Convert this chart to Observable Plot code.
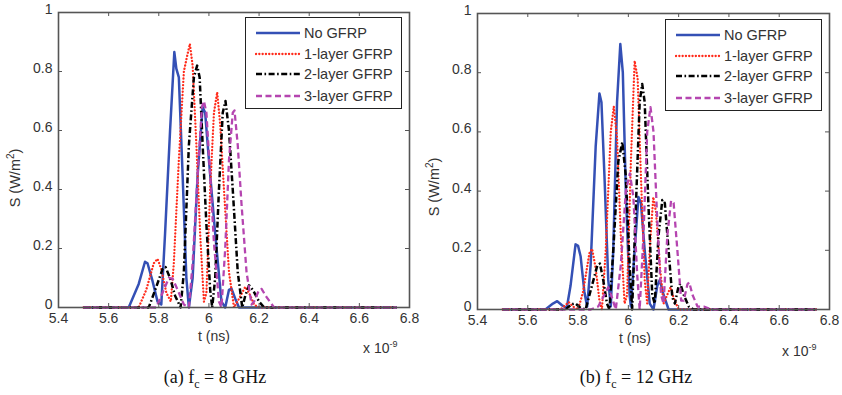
<!DOCTYPE html>
<html><head><meta charset="utf-8">
<script src="https://cdn.jsdelivr.net/npm/d3@7"></script>
<script src="https://cdn.jsdelivr.net/npm/@observablehq/plot@0.6"></script>
<style>
body{margin:0;background:#fff;width:842px;height:395px;position:relative;overflow:hidden;font-family:"Liberation Sans",Arial,sans-serif;color:#222}
.panel{position:absolute;top:0}
.lbl{position:absolute;font-size:14px;color:#333;white-space:nowrap}
.ylab{position:absolute;font-size:14.5px;color:#333;white-space:nowrap;transform:translate(-50%,-50%) rotate(-90deg)}
.cap{position:absolute;font-family:"Liberation Serif","Times New Roman",serif;font-size:18px;color:#111;white-space:nowrap;transform:translateX(-50%)}
.legend{position:absolute;border:1px solid #222;background:#fff}
.legend .row{position:absolute;left:9px;height:20px;display:flex;align-items:center;font-size:14.5px;color:#333}
.legend svg{margin-right:3px}
</style></head><body>
<script>
// ---------- data ----------
const seriesNames = ["No GFRP", "1-layer GFRP", "2-layer GFRP", "3-layer GFRP"];
const xTicks = [5.4, 5.6, 5.8, 6.0, 6.2, 6.4, 6.6, 6.8];
const yTicks = [0, 0.2, 0.4, 0.6, 0.8, 1];
const captions = ["(a) f", "(b) f"];
const captionRest = [" = 8 GHz", " = 12 GHz"];

// (a) fc = 8 GHz  — [t (ns), S (W/m²)]
const noGFRP_8 = [[5.50,0],[5.68,0],[5.72,0.08],[5.745,0.155],[5.755,0.15],[5.775,0.09],[5.795,0.02],[5.81,0.01],[5.825,0.25],[5.845,0.6],[5.862,0.866],[5.87,0.81],[5.88,0.78],[5.895,0.45],[5.91,0.1],[5.92,0],[5.935,0.1],[5.955,0.45],[5.975,0.68],[5.985,0.66],[6.0,0.5],[6.025,0.25],[6.05,0.02],[6.065,0],[6.08,0.06],[6.09,0.064],[6.105,0.03],[6.12,0],[6.75,0]];
const layer1_8 = [[5.50,0],[5.72,0],[5.75,0.06],[5.78,0.15],[5.795,0.165],[5.81,0.13],[5.83,0.05],[5.848,0.02],[5.86,0.15],[5.88,0.5],[5.9,0.8],[5.915,0.86],[5.924,0.894],[5.935,0.82],[5.95,0.55],[5.965,0.25],[5.98,0.02],[5.99,0.05],[6.005,0.4],[6.02,0.66],[6.033,0.73],[6.045,0.62],[6.06,0.4],[6.08,0.12],[6.1,0],[6.12,0.03],[6.145,0.07],[6.16,0.05],[6.18,0.01],[6.2,0],[6.75,0]];
const layer2_8 = [[5.50,0],[5.76,0],[5.79,0.07],[5.815,0.13],[5.827,0.137],[5.845,0.1],[5.865,0.04],[5.887,0],[5.9,0.12],[5.92,0.55],[5.94,0.78],[5.953,0.82],[5.963,0.78],[5.975,0.55],[5.99,0.28],[6.005,0.06],[6.013,0],[6.025,0.1],[6.04,0.4],[6.055,0.66],[6.066,0.7],[6.08,0.6],[6.095,0.4],[6.115,0.12],[6.133,0],[6.145,0.04],[6.16,0.075],[6.175,0.06],[6.2,0.02],[6.22,0],[6.75,0]];
const layer3_8 = [[5.50,0],[5.79,0],[5.82,0.06],[5.84,0.1],[5.855,0.098],[5.875,0.06],[5.9,0.01],[5.92,0],[5.935,0.15],[5.955,0.45],[5.972,0.68],[5.98,0.7],[5.99,0.66],[6.005,0.45],[6.02,0.22],[6.04,0.02],[6.05,0],[6.065,0.2],[6.08,0.5],[6.095,0.66],[6.102,0.668],[6.115,0.55],[6.13,0.35],[6.15,0.12],[6.17,0.01],[6.18,0.02],[6.2,0.06],[6.21,0.063],[6.23,0.035],[6.26,0],[6.75,0]];

// (b) fc = 12 GHz
const noGFRP_12 = [[5.50,0],[5.67,0],[5.70,0.02],[5.717,0.028],[5.735,0.015],[5.755,0.005],[5.77,0.08],[5.79,0.22],[5.80,0.215],[5.81,0.18],[5.825,0.06],[5.836,0.01],[5.85,0.15],[5.87,0.55],[5.885,0.73],[5.893,0.7],[5.905,0.45],[5.92,0.1],[5.93,0.01],[5.94,0.2],[5.955,0.7],[5.968,0.897],[5.978,0.8],[5.99,0.4],[6.005,0.05],[6.01,0.01],[6.025,0.2],[6.04,0.38],[6.05,0.36],[6.065,0.2],[6.085,0.02],[6.1,0],[6.115,0.08],[6.125,0.1],[6.14,0.05],[6.16,0],[6.75,0]];
const layer1_12 = [[5.50,0],[5.73,0],[5.75,0.015],[5.763,0.025],[5.78,0.01],[5.80,0],[5.82,0.06],[5.845,0.19],[5.856,0.205],[5.87,0.14],[5.885,0.03],[5.895,0],[5.91,0.2],[5.93,0.6],[5.942,0.686],[5.955,0.58],[5.97,0.25],[5.985,0.02],[5.995,0.05],[6.01,0.5],[6.025,0.84],[6.037,0.78],[6.05,0.45],[6.065,0.1],[6.075,0.02],[6.085,0.2],[6.099,0.38],[6.11,0.33],[6.125,0.15],[6.14,0.02],[6.155,0.05],[6.168,0.075],[6.18,0.04],[6.2,0],[6.75,0]];
const layer2_12 = [[5.50,0],[5.75,0],[5.775,0.018],[5.79,0.02],[5.81,0.005],[5.83,0],[5.855,0.08],[5.877,0.15],[5.887,0.155],[5.90,0.1],[5.915,0.02],[5.925,0],[5.94,0.2],[5.96,0.5],[5.976,0.565],[5.99,0.45],[6.005,0.15],[6.015,0],[6.03,0.35],[6.045,0.7],[6.055,0.762],[6.065,0.7],[6.08,0.35],[6.095,0.05],[6.105,0.02],[6.12,0.25],[6.135,0.37],[6.145,0.36],[6.16,0.2],[6.175,0.04],[6.185,0.02],[6.2,0.08],[6.207,0.087],[6.22,0.05],[6.24,0.01],[6.26,0],[6.75,0]];
const layer3_12 = [[5.50,0],[5.85,0],[5.88,0.01],[5.905,0.05],[5.92,0.075],[5.935,0.04],[5.95,0],[5.97,0.15],[5.99,0.4],[6.006,0.46],[6.02,0.38],[6.035,0.12],[6.045,0],[6.06,0.25],[6.075,0.6],[6.088,0.684],[6.1,0.6],[6.115,0.3],[6.13,0.05],[6.14,0.02],[6.155,0.25],[6.17,0.368],[6.18,0.36],[6.195,0.2],[6.21,0.03],[6.22,0.03],[6.235,0.085],[6.242,0.092],[6.255,0.05],[6.275,0.01],[6.3,0.01],[6.33,0],[6.75,0]];

// ---------- styles ----------
const styles = [
  {stroke: "#3450b5", strokeWidth: 2.5, strokeDasharray: null, strokeLinecap: "butt"},
  {stroke: "#ff2a1a", strokeWidth: 2.3, strokeDasharray: "0.1,3.2", strokeLinecap: "round"},
  {stroke: "#000000", strokeWidth: 2.5, strokeDasharray: "6,2.5,1.6,2.5", strokeLinecap: "butt"},
  {stroke: "#b545b0", strokeWidth: 2.3, strokeDasharray: "6,3.5", strokeLinecap: "butt"}
];

function panel(seriesData, opts) {
  const innerW = opts.width - opts.ml - opts.mr;
  const innerH = opts.height - opts.mt - opts.mb;
  const marks = [];
  seriesData.forEach((arr, i) => {
    const s = styles[i];
    const o = {x: d => d[0], y: d => d[1], stroke: s.stroke, strokeWidth: s.strokeWidth, strokeLinecap: s.strokeLinecap, strokeLinejoin: "round"};
    if (s.strokeDasharray) o.strokeDasharray = s.strokeDasharray;
    marks.push(Plot.line(arr, o));
  });
  // inward ticks on all four sides (MATLAB box style)
  marks.push(Plot.ruleX(xTicks, {x: d => d, insetTop: innerH - 4, stroke: "#555", strokeWidth: 1}));
  marks.push(Plot.ruleX(xTicks, {x: d => d, insetBottom: innerH - 4, stroke: "#555", strokeWidth: 1}));
  marks.push(Plot.ruleY(yTicks, {y: d => d, insetRight: innerW - 4, stroke: "#555", strokeWidth: 1}));
  marks.push(Plot.ruleY(yTicks, {y: d => d, insetLeft: innerW - 4, stroke: "#555", strokeWidth: 1}));
  marks.push(Plot.frame({stroke: "#555", strokeWidth: 1.6}));
  marks.push(Plot.axisX({ticks: xTicks, tickSize: 0, tickPadding: 6, tickFormat: d3.format("~g"), label: null, fontSize: 14, fill: "#333"}));
  marks.push(Plot.axisY({ticks: yTicks, tickSize: 0, tickPadding: 6, dy: -3, tickFormat: d3.format("~g"), label: null, fontSize: 14, fill: "#333"}));
  const svg = Plot.plot({
    width: opts.width, height: opts.height,
    marginLeft: opts.ml, marginRight: opts.mr, marginTop: opts.mt, marginBottom: opts.mb,
    x: {domain: [xTicks[0], xTicks[xTicks.length - 1]]},
    y: {domain: [yTicks[0], yTicks[yTicks.length - 1]]},
    style: {fontFamily: "'Liberation Sans', Arial, sans-serif", background: "transparent", overflow: "visible"},
    marks
  });
  svg.classList.add("panel");
  svg.style.left = opts.left + "px";
  document.body.appendChild(svg);
}

function legend(left, top) {
  const box = document.createElement("div");
  box.className = "legend";
  box.style.left = left + "px"; box.style.top = top + "px";
  box.style.width = "155px"; box.style.height = "90px";
  const rowsY = [5, 26, 46, 68];
  seriesNames.forEach((name, i) => {
    const s = styles[i];
    const row = document.createElement("div");
    row.className = "row";
    row.style.top = rowsY[i] + "px";
    const ns = "http://www.w3.org/2000/svg";
    const sv = document.createElementNS(ns, "svg");
    sv.setAttribute("width", 46); sv.setAttribute("height", 10);
    const ln = document.createElementNS(ns, "line");
    ln.setAttribute("x1", 1); ln.setAttribute("x2", 45); ln.setAttribute("y1", 5); ln.setAttribute("y2", 5);
    ln.setAttribute("stroke", s.stroke); ln.setAttribute("stroke-width", s.strokeWidth);
    ln.setAttribute("stroke-linecap", s.strokeLinecap);
    if (s.strokeDasharray) ln.setAttribute("stroke-dasharray", s.strokeDasharray);
    sv.appendChild(ln);
    row.appendChild(sv);
    const t = document.createElement("span");
    t.textContent = name;
    row.appendChild(t);
    box.appendChild(row);
  });
  document.body.appendChild(box);
}

function addText(cls, html, left, top) {
  const d = document.createElement("div");
  d.className = cls; d.innerHTML = html;
  d.style.left = left + "px"; d.style.top = top + "px";
  document.body.appendChild(d);
}

panel([noGFRP_8, layer1_8, layer2_8, layer3_8], {left: 0, width: 420, height: 330, ml: 58, mr: 11, mt: 12, mb: 23});
panel([noGFRP_12, layer1_12, layer2_12, layer3_12], {left: 420, width: 422, height: 330, ml: 57, mr: 13, mt: 13, mb: 21});
legend(245, 17);
legend(665, 19);

addText("ylab", "S (W/m<sup style='font-size:10px'>2</sup>)", 14, 178);
addText("ylab", "S (W/m<sup style='font-size:10px'>2</sup>)", 433, 187);
addText("lbl", "t (ns)", 198, 328);
addText("lbl", "t (ns)", 619, 330);
addText("lbl", "x 10<sup style='font-size:9px'>-9</sup>", 363, 339);
addText("lbl", "x 10<sup style='font-size:9px'>-9</sup>", 782, 342);
addText("cap", captions[0] + "<sub style='font-size:12px'>c</sub>" + captionRest[0], 215, 367);
addText("cap", captions[1] + "<sub style='font-size:12px'>c</sub>" + captionRest[1], 636, 367);
</script>
</body></html>
